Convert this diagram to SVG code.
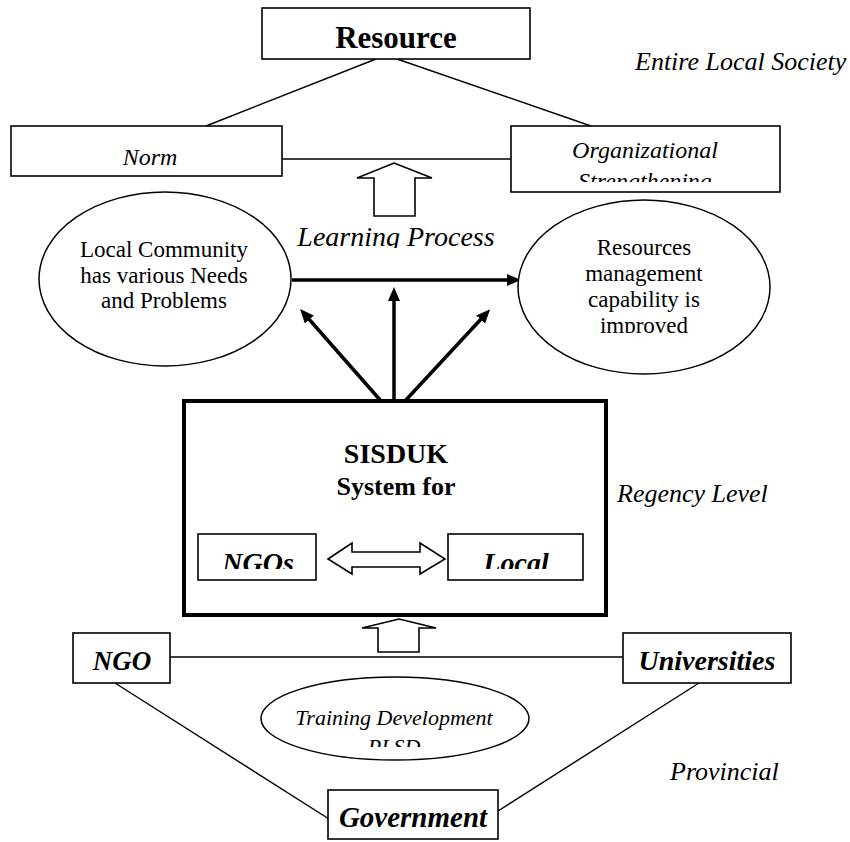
<svg xmlns="http://www.w3.org/2000/svg" width="850" height="842" viewBox="0 0 850 842" font-family="'Liberation Serif', 'DejaVu Serif', serif">
<defs>
<style>
text{font-family:'Liberation Serif','DejaVu Serif',serif;fill:#000}
.box{fill:#fff;stroke:#000;stroke-width:1.6}
.ell{fill:#fff;stroke:#000;stroke-width:1.5}
.ln{stroke:#000;stroke-width:1.4;fill:none}
.th{stroke:#000;stroke-width:3.5;fill:none}
.hollow{fill:#fff;stroke:#000;stroke-width:1.6;stroke-linejoin:miter}
.it{font-style:italic}
.b{font-weight:bold}
</style>
<marker id="ah" markerUnits="userSpaceOnUse" markerWidth="16" markerHeight="14" refX="2" refY="6" orient="auto">
<path d="M0,0 L14,6 L0,12 z" fill="#000"/>
</marker>
<clipPath id="cOrg"><rect x="511" y="126" width="270" height="56"/></clipPath>
<clipPath id="cLearn"><rect x="280" y="200" width="240" height="48"/></clipPath>
<clipPath id="cRes"><rect x="518" y="200" width="252" height="133"/></clipPath>
<clipPath id="cSis"><rect x="184" y="401" width="422" height="106"/></clipPath>
<clipPath id="cBoxes"><rect x="184" y="530" width="422" height="39"/></clipPath>
<clipPath id="cTrain"><rect x="261" y="677" width="270" height="70"/></clipPath>
</defs>

<g id="connectors">
<line class="ln" x1="376" y1="59" x2="206" y2="126"/>
<line class="ln" x1="397" y1="59" x2="591" y2="126"/>
<line class="ln" x1="282" y1="159" x2="511" y2="159"/>
<line class="ln" x1="170" y1="657" x2="623" y2="657"/>
<line class="ln" x1="115" y1="683" x2="329" y2="819"/>
<line class="ln" x1="699" y1="683" x2="498" y2="811"/>
<line class="th" x1="292" y1="280" x2="509" y2="280" marker-end="url(#ah)"/>
<line class="th" x1="394" y1="401" x2="394" y2="299" marker-end="url(#ah)"/>
<line class="th" x1="381" y1="401" x2="308" y2="318" marker-end="url(#ah)"/>
<line class="th" x1="405" y1="401" x2="482" y2="318" marker-end="url(#ah)"/>
<polygon class="hollow" points="394,163 432,178 415,178 415,216 374,216 374,178 357,178"/>
<polygon class="hollow" points="399,619 436,628 419,628 419,652 378,652 378,628 362,628"/>
</g>

<g id="resource">
<rect class="box" x="262" y="8" width="268" height="51"/>
<text class="b" x="396" y="48" font-size="31" text-anchor="middle">Resource</text>
</g>

<g id="entire-local-society">
<text class="it" x="635" y="70" font-size="26">Entire Local Society</text>
</g>

<g id="norm">
<rect class="box" x="11" y="126" width="271" height="50"/>
<text class="it" x="150" y="165" font-size="24" text-anchor="middle">Norm</text>
</g>

<g id="organizational">
<rect class="box" x="511" y="126" width="269" height="66"/>
<g clip-path="url(#cOrg)">
<text class="it" x="645" y="158" font-size="24" text-anchor="middle">Organizational</text>
<text class="it" x="645" y="189" font-size="24" text-anchor="middle">Strengthening</text>
</g>
</g>

<g id="learning-process">
<g clip-path="url(#cLearn)">
<text class="it" x="396" y="246" font-size="28" text-anchor="middle">Learning Process</text>
</g>
</g>

<g id="local-community">
<ellipse class="ell" cx="165" cy="279" rx="126" ry="87"/>
<text x="164" y="257" font-size="23" text-anchor="middle">Local Community</text>
<text x="164" y="283" font-size="23" text-anchor="middle">has various Needs</text>
<text x="164" y="308" font-size="23" text-anchor="middle">and Problems</text>
</g>

<g id="resources-management">
<ellipse class="ell" cx="644" cy="287" rx="126" ry="87"/>
<g clip-path="url(#cRes)">
<text x="644" y="255" font-size="23" text-anchor="middle">Resources</text>
<text x="644" y="281" font-size="23" text-anchor="middle">management</text>
<text x="644" y="307" font-size="23" text-anchor="middle">capability is</text>
<text x="644" y="333" font-size="23" text-anchor="middle">improved</text>
</g>
</g>

<g id="sisduk">
<rect x="184" y="401" width="422" height="214" fill="#fff" stroke="#000" stroke-width="4"/>
<g clip-path="url(#cSis)">
<text class="b" x="396" y="463" font-size="28" text-anchor="middle">SISDUK</text>
<text class="b" x="396" y="495" font-size="26" text-anchor="middle">System for</text>
</g>
</g>

<g id="ngos">
<rect class="box" x="198" y="534" width="118" height="46"/>
<g clip-path="url(#cBoxes)">
<text class="b it" x="258" y="572" font-size="28" text-anchor="middle">NGOs</text>
</g>
</g>

<g id="local">
<rect class="box" x="448" y="534" width="135" height="46"/>
<g clip-path="url(#cBoxes)">
<text class="b it" x="516" y="572" font-size="28" text-anchor="middle">Local</text>
</g>
</g>

<g id="double-arrow">
<polygon class="hollow" points="328,559 352,543 352,552 420,552 420,543 445,559 420,574 420,567 352,567 352,574"/>
</g>

<g id="regency-level">
<text class="it" x="617" y="502" font-size="26">Regency Level</text>
</g>

<g id="ngo">
<rect class="box" x="73" y="633" width="97" height="50"/>
<text class="b it" x="122" y="670" font-size="27" text-anchor="middle">NGO</text>
</g>

<g id="universities">
<rect class="box" x="623" y="633" width="168" height="50"/>
<text class="b it" x="707" y="670" font-size="28" text-anchor="middle">Universities</text>
</g>

<g id="training">
<ellipse class="ell" cx="395" cy="718.5" rx="134" ry="41.5"/>
<g clip-path="url(#cTrain)">
<text class="it" x="394" y="725" font-size="22" text-anchor="middle">Training Development</text>
<text class="it" x="394" y="754" font-size="22" text-anchor="middle">PLSD</text>
</g>
</g>

<g id="provincial">
<text class="it" x="670" y="780" font-size="26">Provincial</text>
</g>

<g id="government">
<rect class="box" x="328" y="790" width="170" height="49"/>
<text class="b it" x="413" y="827" font-size="29" text-anchor="middle">Government</text>
</g>
</svg>
